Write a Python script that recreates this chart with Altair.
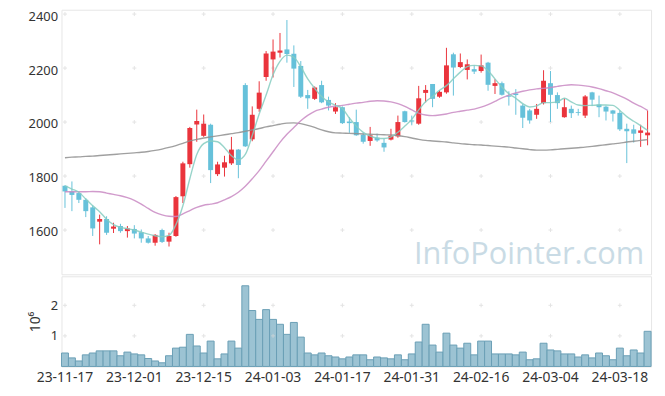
import altair as alt
import pandas as pd

dates = [
    "23-11-17", "23-11-20", "23-11-21", "23-11-22", "23-11-23", "23-11-24", "23-11-27", "23-11-28", "23-11-29", "23-11-30",
    "23-12-01", "23-12-04", "23-12-05", "23-12-06", "23-12-07", "23-12-08", "23-12-11", "23-12-12", "23-12-13", "23-12-14",
    "23-12-15", "23-12-18", "23-12-19", "23-12-20", "23-12-21", "23-12-22", "23-12-26", "23-12-27", "23-12-28",
    "24-01-02", "24-01-03", "24-01-04", "24-01-05", "24-01-08", "24-01-09", "24-01-10", "24-01-11", "24-01-12",
    "24-01-15", "24-01-16", "24-01-17", "24-01-18", "24-01-19", "24-01-22", "24-01-23", "24-01-24", "24-01-25",
    "24-01-26", "24-01-29", "24-01-30", "24-01-31",
    "24-02-01", "24-02-02", "24-02-05", "24-02-06", "24-02-07", "24-02-08", "24-02-13", "24-02-14", "24-02-15",
    "24-02-16", "24-02-19", "24-02-20", "24-02-21", "24-02-22", "24-02-23", "24-02-26", "24-02-27", "24-02-28", "24-02-29",
    "24-03-04", "24-03-05", "24-03-06", "24-03-07", "24-03-08", "24-03-11", "24-03-12", "24-03-13", "24-03-14",
    "24-03-15", "24-03-18", "24-03-19", "24-03-20", "24-03-21", "24-03-22",
]

opens = [1764, 1743, 1737, 1712, 1684, 1631, 1641, 1605, 1615, 1596,
         1604, 1592, 1569, 1553, 1600, 1557, 1578, 1725, 1844, 1991,
         1949, 1990, 1807, 1831, 1847, 1898, 2137, 1936, 2049, 2167,
         2232, 2257, 2269, 2253, 2208, 2100, 2086, 2137, 2082, 2039,
         2055, 2002, 2000, 1953, 1930, 1942, 1923, 1935, 1947, 2040,
         2006, 1994, 2108, 2141, 2094, 2110, 2251, 2204, 2193, 2196,
         2189, 2220, 2134, 2144, 2098, 2106, 2061, 2043, 2027, 2070,
         2144, 2100, 2018, 2049, 2037, 2024, 2110, 2065, 2057, 2043,
         2034, 1975, 1973, 1960, 1951]
highs = [1766, 1780, 1740, 1718, 1692, 1657, 1651, 1627, 1623, 1615,
         1618, 1602, 1578, 1585, 1605, 1590, 1726, 1853, 1982, 2046,
         2028, 1994, 1853, 1875, 1945, 1900, 2144, 2058, 2151, 2263,
         2306, 2330, 2378, 2284, 2226, 2119, 2132, 2153, 2094, 2070,
         2058, 2018, 2046, 1960, 1982, 1957, 1939, 1975, 2024, 2042,
         2024, 2134, 2137, 2141, 2118, 2275, 2257, 2254, 2232, 2210,
         2250, 2223, 2159, 2150, 2114, 2122, 2067, 2049, 2067, 2192,
         2189, 2110, 2088, 2061, 2049, 2100, 2112, 2098, 2061, 2045,
         2043, 1994, 1990, 1990, 2043]
lows = [1682, 1670, 1700, 1648, 1578, 1547, 1582, 1589, 1590, 1572,
        1569, 1553, 1550, 1542, 1552, 1539, 1575, 1700, 1831, 1927,
        1945, 1774, 1800, 1798, 1841, 1792, 1908, 1929, 2038, 2153,
        2165, 2239, 2220, 2130, 2089, 2049, 2082, 2070, 2043, 2030,
        1993, 1960, 1949, 1920, 1912, 1927, 1890, 1932, 1942, 1998,
        1988, 1990, 2073, 2055, 2090, 2105, 2098, 2200, 2158, 2178,
        2183, 2116, 2104, 2098, 2061, 2027, 1978, 1994, 2012, 2065,
        2000, 2049, 2016, 2015, 2024, 2015, 2059, 2018, 2006, 2002,
        1967, 1848, 1924, 1908, 1914]
closes = [1743, 1730, 1712, 1670, 1606, 1641, 1590, 1613, 1596, 1606,
          1587, 1569, 1553, 1582, 1556, 1578, 1722, 1847, 1978, 2004,
          1994, 1822, 1843, 1851, 1898, 1841, 1910, 2027, 2109, 2254,
          2261, 2265, 2252, 2198, 2094, 2088, 2128, 2073, 2061, 2055,
          1996, 1996, 1951, 1927, 1951, 1932, 1906, 1949, 2000, 2000,
          2002, 2088, 2119, 2086, 2112, 2210, 2202, 2222, 2214, 2187,
          2210, 2138, 2144, 2101, 2094, 2100, 2016, 2006, 2049, 2153,
          2101, 2070, 2055, 2033, 2034, 2095, 2083, 2055, 2039, 2031,
          1973, 1966, 1957, 1969, 1961]
# volume in millions of shares
volumes = [0.44, 0.28, 0.18, 0.38, 0.44, 0.51, 0.51, 0.51, 0.35, 0.47,
           0.41, 0.38, 0.26, 0.18, 0.12, 0.35, 0.60, 0.63, 1.05, 0.67,
           0.44, 0.83, 0.25, 0.41, 0.83, 0.60, 2.64, 1.83, 1.54, 1.86,
           1.54, 1.38, 1.05, 1.44, 0.96, 0.44, 0.38, 0.44, 0.35, 0.31,
           0.25, 0.31, 0.38, 0.38, 0.22, 0.31, 0.28, 0.25, 0.38, 0.22,
           0.41, 0.80, 1.38, 0.70, 0.47, 1.09, 0.70, 0.60, 0.76, 0.38,
           0.83, 0.83, 0.41, 0.41, 0.41, 0.38, 0.47, 0.22, 0.25, 0.76,
           0.54, 0.51, 0.41, 0.41, 0.31, 0.38, 0.28, 0.44, 0.35, 0.22,
           0.60, 0.35, 0.54, 0.44, 1.15]
ma_short = [1764, 1752, 1740, 1715, 1690, 1668, 1640, 1620, 1610, 1605,
            1600, 1592, 1585, 1579, 1575, 1580, 1620, 1690, 1790, 1880,
            1920, 1930, 1927, 1905, 1875, 1860, 1880, 1950, 2030, 2100,
            2175, 2225, 2248, 2240, 2205, 2160, 2125, 2095, 2075, 2062,
            2050, 2015, 1985, 1962, 1948, 1941, 1939, 1945, 1962, 1985,
            2010, 2045, 2075, 2095, 2118, 2135, 2160, 2185, 2205, 2210,
            2208, 2190, 2160, 2130, 2105, 2088, 2068, 2056, 2060, 2072,
            2072, 2075, 2088, 2075, 2063, 2061, 2062, 2063, 2063, 2062,
            2043, 2020, 2003, 1987, 1969]
ma_mid = [1742, 1742, 1742, 1742, 1743, 1742, 1737, 1732, 1727, 1720,
          1710, 1696, 1680, 1665, 1656, 1651, 1650, 1660, 1672, 1684,
          1692, 1696, 1701, 1712, 1724, 1740, 1762, 1790, 1820, 1855,
          1890, 1925, 1955, 1980, 2005, 2025, 2040, 2048, 2055, 2059,
          2062, 2066, 2070, 2073, 2077, 2079, 2078, 2075, 2068, 2058,
          2045, 2033, 2026, 2024, 2026, 2030, 2036, 2040, 2044, 2048,
          2055, 2065, 2077, 2090, 2100, 2108, 2114, 2119, 2123, 2125,
          2128, 2132, 2136, 2138, 2137, 2134, 2130, 2124, 2116, 2108,
          2097, 2085, 2070, 2058, 2043]
ma_long = [1868, 1870, 1871, 1873, 1874, 1876, 1878, 1880, 1882, 1884,
           1886, 1888, 1891, 1895, 1900, 1906, 1913, 1921, 1930, 1936,
           1941, 1945, 1949, 1953, 1957, 1961, 1966, 1971, 1976, 1982,
           1987, 1992, 1996, 1997, 1994, 1988, 1980, 1971, 1964, 1960,
           1959, 1958, 1957, 1956, 1955, 1954, 1953, 1952, 1950, 1946,
           1941, 1936, 1932, 1930, 1928, 1926, 1923, 1920, 1918, 1916,
           1915, 1913, 1911, 1909, 1907, 1904, 1901, 1898, 1896, 1896,
           1897, 1899, 1901, 1903, 1905, 1907, 1910, 1913, 1916, 1919,
           1922, 1926, 1929, 1932, 1935]

label_dates = ["23-11-17", "23-12-01", "23-12-15", "24-01-03", "24-01-17",
               "24-01-31", "24-02-16", "24-03-04", "24-03-18"]
price_ticks = [1600, 1800, 2000, 2200, 2400]
vol_ticks = [1, 2]

df = pd.DataFrame({
    "date": dates, "open": opens, "high": highs, "low": lows, "close": closes,
    "volume": volumes, "ma5": ma_short, "ma20": ma_mid, "ma60": ma_long,
})
df["dir"] = ["up" if c >= o else "down" for o, c in zip(opens, closes)]

W = 595
FONT = "Noto Sans"
xscale = alt.Scale(domain=dates, paddingInner=0, paddingOuter=0)
pscale = alt.Scale(domain=[1436, 2416], nice=False, zero=False)
vscale = alt.Scale(domain=[0, 2.95], nice=False)
cscale = alt.Scale(domain=["up", "down"], range=["#ea343c", "#66c1da"])

xe = alt.X("date:O", scale=xscale, axis=None, sort=dates)
base = alt.Chart(df)

cross_shape = "M-1,0L1,0M0,-1L0,1"
cross_df = pd.DataFrame([(d, p) for d in label_dates for p in price_ticks], columns=["date", "p"])
crosses = alt.Chart(cross_df).mark_point(shape=cross_shape, size=16, filled=False,
                                         stroke="#d9d9d9", strokeWidth=1).encode(
    x=alt.X("date:O", scale=xscale, axis=None, sort=dates),
    y=alt.Y("p:Q", scale=pscale,
            axis=alt.Axis(values=price_ticks, title=None, format="d", minExtent=40,
                          labelPadding=4, labelOffset=2)),
)

wicks = base.mark_rule(strokeWidth=1).encode(
    x=xe, y=alt.Y("low:Q", scale=pscale), y2="high:Q",
    color=alt.Color("dir:N", scale=cscale, legend=None),
)
bodies = base.mark_bar(size=5).encode(
    x=xe, y=alt.Y("open:Q", scale=pscale), y2="close:Q",
    color=alt.Color("dir:N", scale=cscale, legend=None),
)

def ma_line(field, color):
    return base.mark_line(strokeWidth=1.4, color=color, opacity=0.85, interpolate="monotone").encode(
        x=xe, y=alt.Y(f"{field}:Q", scale=pscale))

watermark = alt.Chart(pd.DataFrame({"t": ["InfoPointer.com"]})).mark_text(
    align="right", baseline="alphabetic", fontSize=31, font="Open Sans", color="#c9dbe5",
).encode(text="t:N", x=alt.value(588), y=alt.value(257))

main = alt.layer(
    crosses, wicks, bodies,
    ma_line("ma60", "#8f8f8f"), ma_line("ma20", "#c98ac3"), ma_line("ma5", "#86cdc1"),
    watermark,
).properties(width=W, height=267)

vcross_df = pd.DataFrame([(d, v) for d in label_dates for v in vol_ticks], columns=["date", "v"])
vbars = base.mark_bar(color="#9cc3d3", stroke="#6a9fb5", strokeWidth=1).encode(
    x=alt.X("date:O", scale=xscale, sort=dates,
            axis=alt.Axis(values=label_dates, labelAngle=0, title=None, ticks=False,
                          domain=False, labelFontSize=14, labelPadding=4)),
    y=alt.Y("volume:Q", scale=vscale,
            axis=alt.Axis(values=vol_ticks, title="10⁶", titleFontSize=14, titleFontWeight="normal",
                          titleColor="#333333", titlePadding=8, labelPadding=4)),
)
vcrosses = alt.Chart(vcross_df).mark_point(shape=cross_shape, size=16, filled=False,
                                           stroke="#d9d9d9", strokeWidth=1).encode(
    x=alt.X("date:O", scale=xscale, sort=dates),
    y=alt.Y("v:Q", scale=vscale),
)
vol = alt.layer(vbars, vcrosses).properties(width=W, height=91)

chart = alt.vconcat(main, vol, spacing=0).properties(
    padding={"left": 13, "top": -1, "right": 5, "bottom": 5}
).configure_view(stroke="#e6e6e6").configure_axis(
    labelFont=FONT, titleFont=FONT, labelColor="#333333", labelFontSize=13,
    ticks=False, domain=False, grid=False,
).configure_concat(spacing=0)

chart.save("out.html", embed_options={"renderer": "svg", "actions": False})
